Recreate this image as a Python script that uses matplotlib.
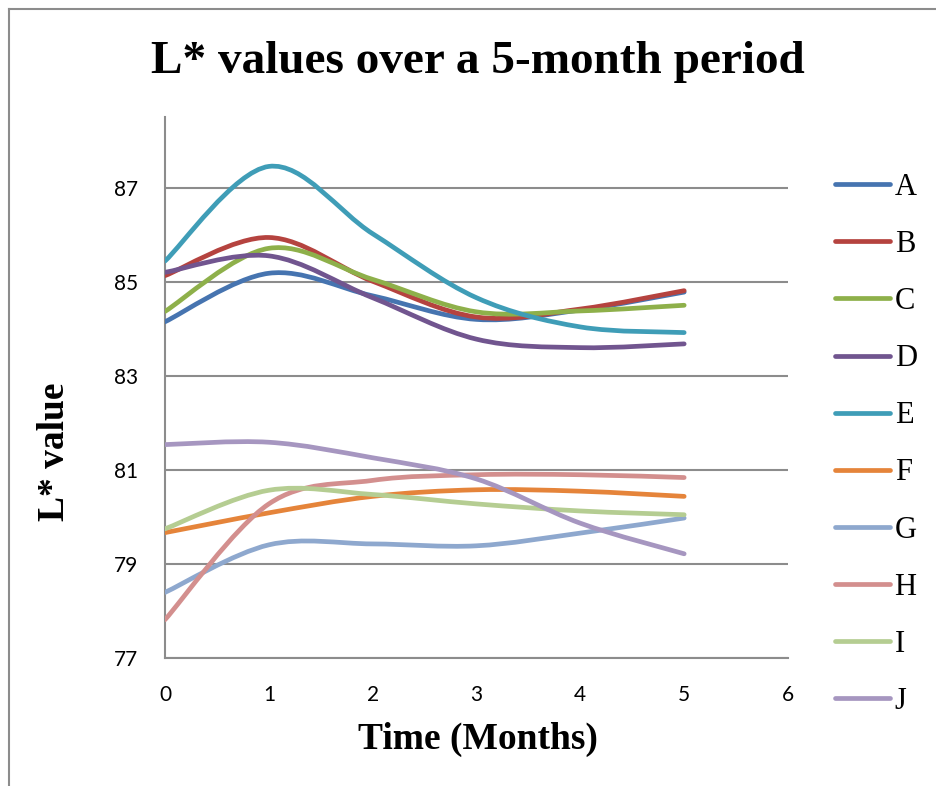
import numpy as np
import matplotlib.pyplot as plt
from matplotlib.path import Path
from matplotlib.patches import PathPatch
from matplotlib.lines import Line2D

# L* readings, one value per month
months = [0, 1, 2, 3, 4, 5]
A = [84.15, 85.18, 84.70, 84.20, 84.40, 84.78]
B = [85.13, 85.94, 85.01, 84.25, 84.42, 84.81]
C = [84.37, 85.71, 85.05, 84.36, 84.38, 84.50]
D = [85.20, 85.55, 84.66, 83.78, 83.60, 83.68]
E = [85.44, 87.45, 86.02, 84.66, 84.04, 83.92]
F = [79.67, 80.09, 80.44, 80.58, 80.55, 80.44]
G = [78.40, 79.41, 79.43, 79.39, 79.66, 79.98]
H = [77.82, 80.28, 80.78, 80.90, 80.90, 80.84]
I = [79.75, 80.57, 80.48, 80.28, 80.13, 80.05]
J = [81.54, 81.59, 81.26, 80.81, 79.87, 79.22]

names = ['A', 'B', 'C', 'D', 'E', 'F', 'G', 'H', 'I', 'J']
series = [A, B, C, D, E, F, G, H, I, J]
colors = ['#4674B0', '#B5433F', '#8EB04A', '#71558F', '#3F9DB7',
          '#E5843A', '#8EA8CE', '#D38F8E', '#B5CD92', '#A696C0']

serif = 'Liberation Serif'
sans = 'Lato'
LW = 3.4


def smooth_path(x, y):
    # Catmull-Rom style bezier through every point (like a spreadsheet "smoothed line")
    pts = np.column_stack([x, y]).astype(float)
    padded = np.vstack([pts[0], pts, pts[-1]])
    verts = [pts[0]]
    codes = [Path.MOVETO]
    for i in range(len(pts) - 1):
        p0, p1, p2, p3 = padded[i], padded[i + 1], padded[i + 2], padded[i + 3]
        verts += [p1 + (p2 - p0) / 6, p2 - (p3 - p1) / 6, p2]
        codes += [Path.CURVE4] * 3
    return Path(verts, codes)


fig = plt.figure(figsize=(9.36, 7.86), dpi=100)
ax = fig.add_axes([0.17628, 0.16247, 0.66560, 0.68868])

handles = []
for name, vals, col in zip(names, series, colors):
    patch = PathPatch(smooth_path(months, vals), facecolor='none', edgecolor=col,
                      lw=LW, capstyle='round', joinstyle='round', zorder=3)
    ax.add_patch(patch)
    handles.append(Line2D([], [], color=col, lw=LW, solid_capstyle='round'))

ax.set_xlim(0, 6)
ax.set_ylim(77, 88.5)
ax.set_xticks(range(0, 7))
ax.set_yticks(range(77, 88, 2))
ax.yaxis.grid(True, color='#8C8C8C', lw=1.5)
ax.set_axisbelow(True)
for side in ['top', 'right']:
    ax.spines[side].set_visible(False)
for side in ['left', 'bottom']:
    ax.spines[side].set_color('#8C8C8C')
    ax.spines[side].set_linewidth(1.5)
ax.tick_params(length=0, labelsize=15, pad=19)
ax.tick_params(axis='y', pad=19)
for lab in ax.get_xticklabels() + ax.get_yticklabels():
    lab.set_fontfamily(sans)

fig.text(0.5107, 0.921, 'L* values over a 5-month period', ha='center', va='center',
         fontsize=34, fontweight='bold', family=serif)
fig.text(0.5107, 0.059, 'Time (Months)', ha='center', va='center',
         fontsize=27, fontweight='bold', family=serif)
fig.text(0.0577, 0.425, 'L* value', ha='center', va='center', rotation=90,
         fontsize=27, fontweight='bold', family=serif)

fig.legend(handles, names, loc='upper left', bbox_to_anchor=(835 / 936, 0.780),
           frameon=False, prop={'family': serif, 'size': 22}, handlelength=1.8,
           handletextpad=0.15, labelspacing=0.92, borderpad=0, borderaxespad=0)

# outer chart frame
fig.add_artist(Line2D([9 / 936, 1], [1 - 9 / 786] * 2, color='#8C8C8C', lw=1.5,
                      transform=fig.transFigure))
fig.add_artist(Line2D([9 / 936] * 2, [0, 1 - 9 / 786], color='#8C8C8C', lw=1.5,
                      transform=fig.transFigure))

fig.savefig('out.png', dpi=100)
